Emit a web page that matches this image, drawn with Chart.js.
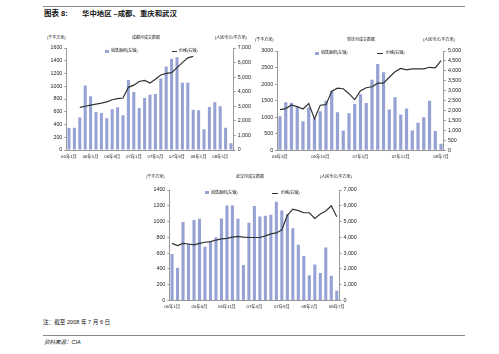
<!DOCTYPE html>
<html><head><meta charset="utf-8">
<script src="https://cdn.jsdelivr.net/npm/chart.js@4.4.0/dist/chart.umd.min.js"></script>
<style>
html,body{margin:0;padding:0;background:#fff;}
body{width:499px;height:354px;position:relative;overflow:hidden;font-family:'Liberation Sans','Noto Sans CJK SC',sans-serif;}
.t{position:absolute;white-space:nowrap;line-height:1;color:#111;font-family:'Liberation Sans','Noto Sans CJK SC',sans-serif;}
canvas{position:absolute;}
.hr{position:absolute;height:0;border-top:1px solid #8a8a8a;}
.sw{position:absolute;background:#95a2d3;width:4px;height:3px;}
.ln{position:absolute;height:0;border-top:1.2px solid #333;}
</style></head><body>
<div class="hr" style="left:43px;top:6px;width:422px;"></div>
<div class="t" style="left:44px;top:10px;font-size:7.5px;font-weight:bold;">图表 8:</div>
<div class="t" style="left:82px;top:10px;font-size:7.4px;font-weight:bold;">华中地区 –成都、重庆和武汉</div>

<canvas id="c1"></canvas>
<canvas id="c2"></canvas>
<canvas id="c3"></canvas>

<div class="t" style="left:47px;top:36px;font-size:4px;">(千平方米)</div>
<div class="t" style="left:132px;top:36px;font-size:4px;">成都月成交数据</div>
<div class="t" style="left:215px;top:36px;font-size:4px;">(人民币元/平方米)</div>
<div class="sw" style="left:105px;top:49.5px;"></div>
<div class="t" style="left:111px;top:49px;font-size:4px;">销售面积(左轴)</div>
<div class="ln" style="left:172px;top:51px;width:5px;"></div>
<div class="t" style="left:179px;top:49px;font-size:4px;">价格(右轴)</div>

<div class="t" style="left:255px;top:38px;font-size:4px;">(千平方米)</div>
<div class="t" style="left:347px;top:38px;font-size:4px;">重庆月成交数据</div>
<div class="t" style="left:423px;top:38px;font-size:4px;">(人民币元/平方米)</div>
<div class="sw" style="left:315px;top:51.5px;"></div>
<div class="t" style="left:321px;top:51px;font-size:4px;">销售面积(左轴)</div>
<div class="ln" style="left:377px;top:53px;width:6px;"></div>
<div class="t" style="left:386px;top:51px;font-size:4px;">价格(右轴)</div>

<div class="t" style="left:146px;top:175px;font-size:4px;">(千平方米)</div>
<div class="t" style="left:236px;top:175px;font-size:4px;">武汉月成交数据</div>
<div class="t" style="left:320px;top:175px;font-size:4px;">(人民币元/平方米)</div>
<div class="sw" style="left:205px;top:191px;"></div>
<div class="t" style="left:211px;top:190.5px;font-size:4px;">销售面积(左轴)</div>
<div class="ln" style="left:272px;top:192.5px;width:6px;"></div>
<div class="t" style="left:281px;top:190.5px;font-size:4px;">价格(右轴)</div>

<div class="t" style="left:43px;top:320px;font-size:5.6px;">注：截至 2008 年 7 月 6 日</div>
<div class="hr" style="left:43px;top:335px;width:422px;"></div>
<div class="t" style="left:44px;top:340px;font-size:5.5px;font-style:italic;">资料来源：CIA</div>

<script>
const months = ['06年1月','06年2月','06年3月','06年4月','06年5月','06年6月','06年7月','06年8月','06年9月','06年10月','06年11月','06年12月',
  '07年1月','07年2月','07年3月','07年4月','07年5月','07年6月','07年7月','07年8月','07年9月','07年10月','07年11月','07年12月',
  '08年1月','08年2月','08年3月','08年4月','08年5月','08年6月','08年7月'];
const chongqingMonths = ['06年3月','06年4月','06年5月','06年6月','06年7月','06年8月','06年9月','06年10月','06年11月','06年12月',
  '07年1月','07年2月','07年3月','07年4月','07年5月','07年6月','07年7月','07年8月','07年9月','07年10月','07年11月','07年12月',
  '08年1月','08年2月','08年3月','08年4月','08年5月','08年6月','08年7月'];

const chengduArea = [345,350,510,1010,845,595,580,500,640,670,545,1098,910,660,815,865,880,1120,1310,1432,1455,1055,1055,630,625,325,675,750,688,348,105];
const chengduPrice = [null,null,2920,3000,3080,3150,3220,3300,3450,3520,3570,4300,4450,4700,4780,4600,4850,5150,5260,5310,5650,6000,6320,6430,null,null,null,null,null,null,null];
const chengduTicks = ['06年1月','06年5月','06年9月','07年1月','07年5月','07年9月','08年1月','08年5月'];

const chongqingArea = [1030,1450,1440,1330,880,1290,960,1180,1500,1800,1150,600,1120,1400,1690,1430,2130,2610,2360,1230,1600,1080,1260,600,830,1000,1500,585,195];
const chongqingPrice = [2050,2100,2280,2200,2080,2350,1580,2270,2300,2980,3130,3100,2850,2550,3000,3150,3200,3380,3380,3680,3950,4120,4050,4100,4100,4100,4180,4150,4520];
const chongqingTicks = ['06年3月','06年10月','07年5月','07年12月','08年7月'];

const wuhanArea = [590,415,995,715,1020,1035,680,745,800,1040,1205,1205,1035,450,985,1198,1063,1075,1085,1250,1140,1095,915,705,565,320,455,350,670,315,125];
const wuhanPrice = [3620,3480,3620,3580,3520,3620,3690,3730,3830,3900,3940,4020,4060,4020,4000,3990,3990,4090,4220,4280,4480,5400,5790,5690,5560,5560,5200,5480,5670,6000,5300];
const wuhanTicks = ['06年1月','06年6月','06年11月','07年4月','07年9月','08年2月','08年7月'];

const FONT = "'Liberation Sans','Noto Sans CJK SC',sans-serif";
const BAR = '#95a2d3';

function makeChart(id, g, labels, area, price, shown, yMax, yStep, y1Max, y1Step){
  const cv = document.getElementById(id);
  cv.width = g.w; cv.height = g.h;
  cv.style.left = g.x + 'px'; cv.style.top = g.y + 'px';
  const leftW = g.pl - g.x, rightW = g.x + g.w - g.pr, topPad = g.pt - g.y, xH = g.y + g.h - g.pb;
  new Chart(cv, {
    type: 'bar',
    data: { labels: labels, datasets: [
      { type:'line', data: price, yAxisID:'y1', borderColor:'#333', borderWidth:1.2, pointRadius:0, tension:0, order:0, spanGaps:false },
      { type:'bar', data: area, yAxisID:'y', backgroundColor: BAR, barPercentage:0.56, categoryPercentage:1, order:1 }
    ]},
    options: {
      responsive:false, animation:false, devicePixelRatio:1,
      layout:{ padding:{top:topPad,left:0,right:0,bottom:0}, autoPadding:false },
      plugins:{ legend:{display:false}, tooltip:{enabled:false} },
      scales:{
        x:{ offset:true, grid:{display:false, drawTicks:false}, border:{color:'#999',width:1},
            ticks:{ autoSkip:false, maxRotation:0, minRotation:0, padding:4, color:'#222', font:{size:4.3,family:FONT},
              callback:function(v){ const l = this.getLabelForValue(v); return shown.includes(l) ? l : ''; } },
            afterFit:function(s){ s.height = xH; } },
        y:{ position:'left', min:0, max:yMax,
            ticks:{ stepSize:yStep, padding:2, color:'#222', font:{size:5.3,family:FONT}, callback:function(v){ return String(v); } },
            grid:{ drawOnChartArea:false, tickLength:2, color:'#999' }, border:{color:'#999',width:1},
            afterFit:function(s){ s.width = leftW; } },
        y1:{ position:'right', min:0, max:y1Max,
            ticks:{ stepSize:y1Step, padding:2, color:'#222', font:{size:5.3,family:FONT}, callback:function(v){ return Number(v).toLocaleString('en-US'); } },
            grid:{ drawOnChartArea:false, tickLength:2, color:'#999' }, border:{color:'#999',width:1},
            afterFit:function(s){ s.width = rightW; } }
      }
    }
  });
}

makeChart('c1', {x:30,y:40,w:235,h:125,pl:66.3,pr:233.7,pt:48,pb:150}, months, chengduArea, chengduPrice, chengduTicks, 1600, 200, 7000, 1000);
makeChart('c2', {x:250,y:40,w:225,h:125,pl:277.1,pr:443.9,pt:51,pb:150.3}, chongqingMonths, chongqingArea, chongqingPrice, chongqingTicks, 3000, 500, 5000, 500);
makeChart('c3', {x:130,y:180,w:240,h:135,pl:169.3,pr:339.5,pt:190,pb:300.5}, months, wuhanArea, wuhanPrice, wuhanTicks, 1400, 200, 7000, 1000);
</script>
</body></html>
